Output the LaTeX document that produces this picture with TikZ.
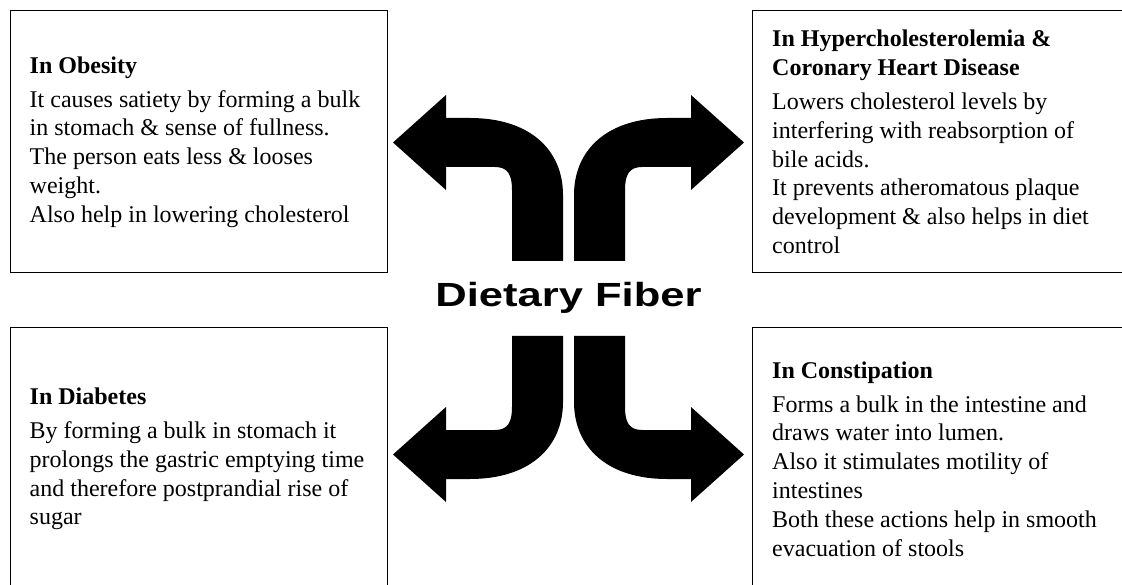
\documentclass[tikz,border=0pt]{standalone}
\usepackage{fontspec}
\setmainfont{Liberation Serif}
\newfontfamily\titlefont{Liberation Sans}
\usepackage{tikz}
\usetikzlibrary{positioning}

\begin{document}
\begin{tikzpicture}[x=1pt, y=-1pt,
    infobox/.style={draw, line width=1pt, minimum width=377pt, minimum height=262pt, inner sep=0pt},
    infotext/.style={align=left, inner sep=0pt, font=\fontsize{24}{28.8}\selectfont},
    fibertitle/.style={inner sep=0pt, font=\titlefont\bfseries\fontsize{33.5}{36}\selectfont}]
    \useasboundingbox (0,0) rectangle (1122,585);
    \clip (0,0) rectangle (1122,585);
    % the four boxes
    \node[infobox] (obesity) at (198.5,142) {};
    \node[infobox] (hyper) at (941,142) {};
    \node[infobox] (diabetes) at (198.5,459) {};
    \node[infobox] (constip) at (941,459) {};
    \node[infotext, right=20pt of obesity.west] (obesitytext) {\textbf{In Obesity}\\[5pt]
        It causes satiety by forming a bulk\\ in stomach \& sense of fullness.\\
        The person eats less \& looses\\ weight.\\ Also help in lowering cholesterol};
    \node[infotext, right=20pt of hyper.west] (hypertext) {\textbf{In Hypercholesterolemia \&}\\
        \textbf{Coronary Heart Disease}\\[5pt]
        Lowers cholesterol levels by\\ interfering with reabsorption of\\ bile acids.\\
        It prevents atheromatous plaque\\ development \& also helps in diet\\ control};
    \node[infotext, right=20pt of diabetes.west] (diabetestext) {\textbf{In Diabetes}\\[5pt]
        By forming a bulk in stomach it\\ prolongs the gastric emptying time\\
        and therefore postprandial rise of\\ sugar};
    \node[infotext, right=20pt of constip.west] (constiptext) {\textbf{In Constipation}\\[5pt]
        Forms a bulk in the intestine and\\ draws water into lumen.\\
        Also it stimulates motility of\\ intestines\\
        Both these actions help in smooth\\ evacuation of stools};
    % centre label
    \node[fibertitle, anchor=base] (fiber) at (568.5,307) {\scalebox{1.3}[1]{Dietary Fiber}};
    % four bent block arrows
    \foreach \sx/\sy in {1/1, -1/1, 1/-1, -1/-1} {
      \begin{scope}[shift={(568.5,298.5)}, xscale=\sx, yscale=\sy]
        \fill (-5.5,-37.5) -- (-5.5,-103.5)
          .. controls (-5.5,-148.5) and (-38.5,-180.5) .. (-98.5,-180.5)
          -- (-122.5,-180.5) -- (-122.5,-203.5) -- (-175.5,-156)
          -- (-122.5,-108.5) -- (-122.5,-131.5) -- (-73.5,-131.5)
          .. controls (-60.5,-131.5) and (-56.5,-123.5) .. (-56.5,-108.5)
          -- (-56.5,-37.5) -- cycle;
      \end{scope}
    }
\end{tikzpicture}
\end{document}
